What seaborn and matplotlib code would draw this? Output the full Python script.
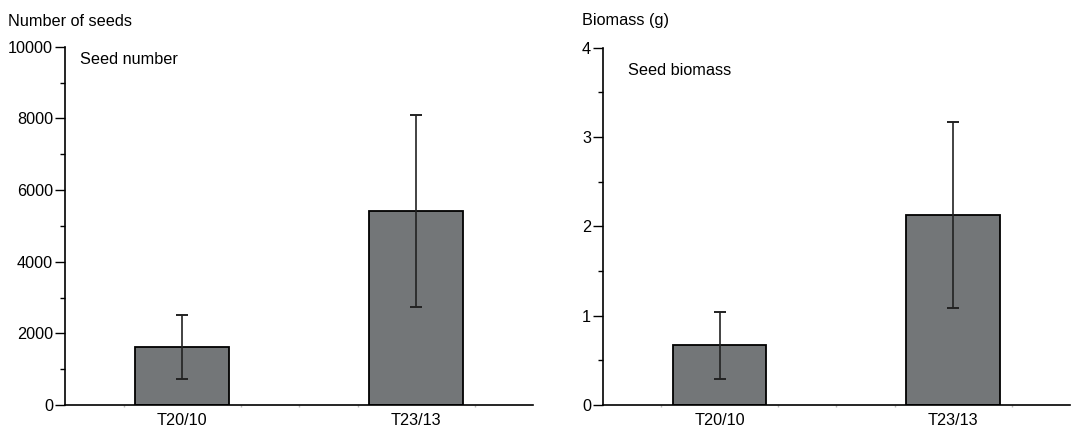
import numpy as np
import pandas as pd
import matplotlib.pyplot as plt
import seaborn as sns
from matplotlib.ticker import MultipleLocator, FixedLocator

sns.set_style("ticks")
plt.rcParams['font.family'] = ['Liberation Sans', 'DejaVu Sans']
plt.rcParams['text.color'] = 'black'
plt.rcParams['xtick.labelcolor'] = 'black'
plt.rcParams['ytick.labelcolor'] = 'black'

treatments = ["T20/10", "T23/13"]
seed_number = [1630, 5420]
seed_number_err = [897, 2690]
seed_biomass = [0.67, 2.13]
seed_biomass_err = [0.375, 1.04]

bar_color = "#737678"

fig = plt.figure(figsize=(10.71, 4.32), dpi=100)
ax1 = fig.add_axes([0.0607, 0.0625, 0.437, 0.829])
ax2 = fig.add_axes([0.563, 0.0625, 0.436, 0.827])


def draw_panel(ax, values, errors, ymax, major, minor, label, label_pos):
    df = pd.DataFrame({"treatment": treatments, "value": values})
    sns.barplot(data=df, x="treatment", y="value", ax=ax, color=bar_color,
                width=0.4, edgecolor="black", linewidth=1.3, errorbar=None,
                saturation=1)
    ax.errorbar(np.arange(len(treatments)), values, yerr=errors, fmt="none",
                ecolor="#222222", elinewidth=1.2, capsize=4.5, capthick=1.4)
    ax.set_xlim(-0.5, 1.5)
    ax.set_ylim(0, ymax)
    ax.yaxis.set_major_locator(MultipleLocator(major))
    ax.yaxis.set_minor_locator(MultipleLocator(minor))
    ax.xaxis.set_minor_locator(FixedLocator([-0.25, 0.25, 0.5, 0.75, 1.25]))
    ax.tick_params(axis="y", which="major", length=7, width=1, pad=1.5,
                   labelsize=11.7, color="black")
    ax.tick_params(axis="y", which="minor", length=3.5, width=1, color="black")
    ax.tick_params(axis="x", which="major", length=0, pad=6, labelsize=11.7)
    ax.tick_params(axis="x", which="minor", length=1.5, width=1, color="#bbbbbb")
    ax.set_xlabel("")
    ax.set_ylabel("")
    sns.despine(ax=ax)
    for side in ["left", "bottom"]:
        ax.spines[side].set_linewidth(1.2)
        ax.spines[side].set_color("black")
    ax.text(label_pos[0], label_pos[1], label, transform=ax.transAxes,
            fontsize=11.7, va="center", ha="left")


draw_panel(ax1, seed_number, seed_number_err, 10000, 2000, 1000,
           "Seed number", (0.032, 0.966))
draw_panel(ax2, seed_biomass, seed_biomass_err, 4, 1, 0.5,
           "Seed biomass", (0.054, 0.936))

fig.text(8 / 1071, 1 - 21 / 432, "Number of seeds", fontsize=11.7, va="center", ha="left")
fig.text(582 / 1071, 1 - 21 / 432, "Biomass (g)", fontsize=11.7, va="center", ha="left")

fig.savefig("out.png", dpi=100)
